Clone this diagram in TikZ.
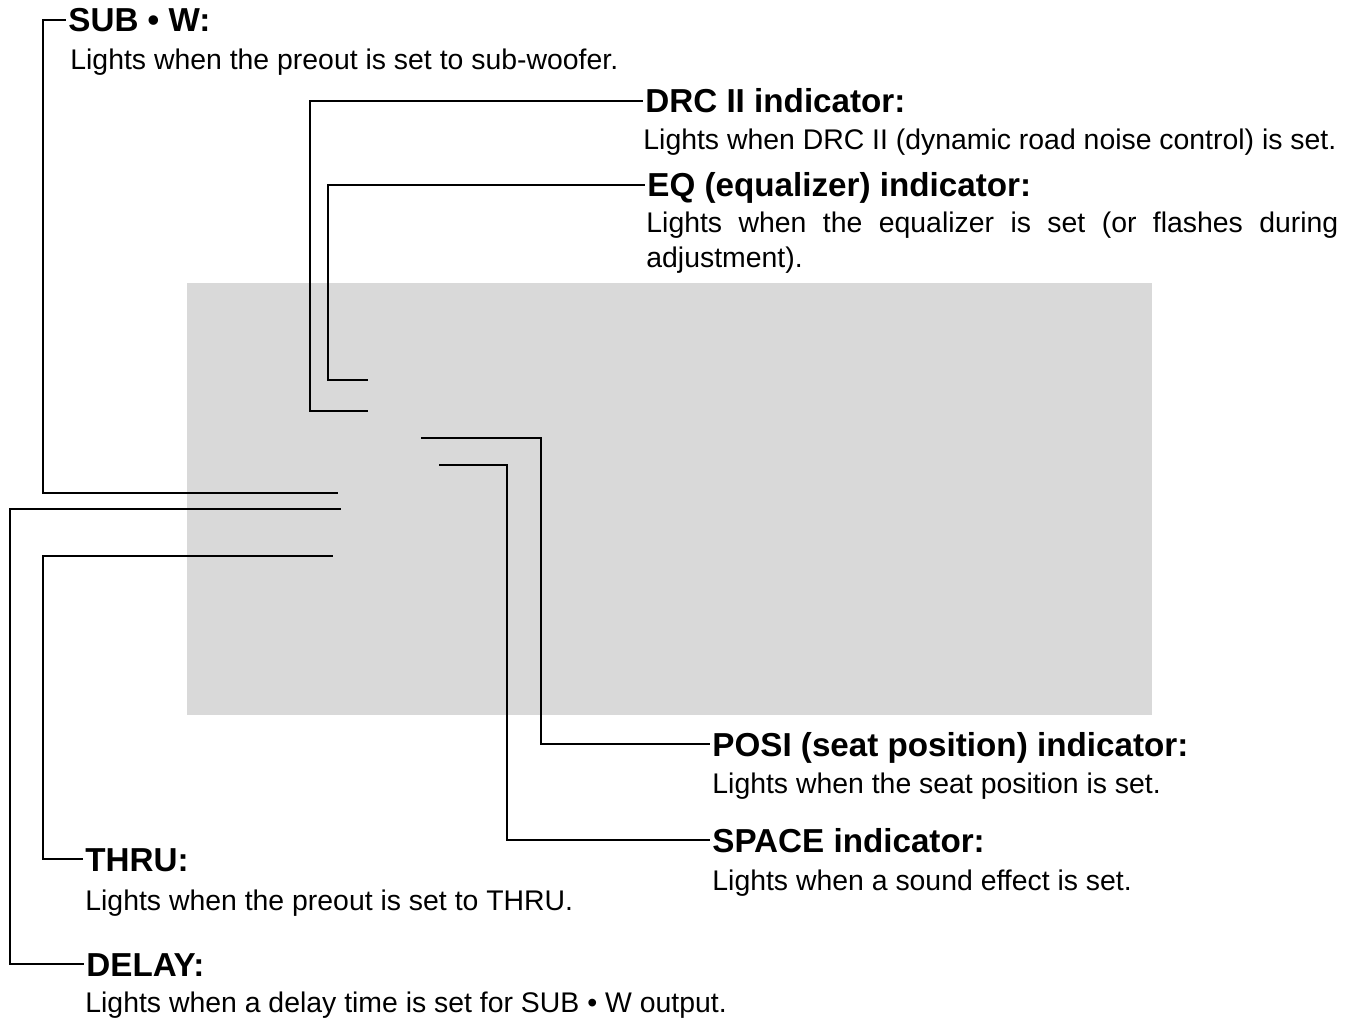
\documentclass[tikz,border=0pt]{standalone}
\usepackage{fontspec}
\setmainfont{Liberation Sans}
\begin{document}
\begin{tikzpicture}[x=0.5pt,y=-0.5pt,
  lbl/.style={font=\fontsize{16.6}{20}\selectfont\bfseries, inner sep=0pt, anchor=base west, text height=11.9pt, text depth=0pt},
  body/.style={font=\fontsize{14.2}{17.5}\selectfont, inner sep=0pt, anchor=base west},
  wire/.style={line width=0.85pt, line cap=rect}]
\useasboundingbox (0,0) rectangle (1350,1032);
% display panel
\fill[gray!30] (187,283) rectangle (1152,715);
% labels
\node[lbl] (sub) at (68,32) {SUB • W:};
\node[body] (subb) at (70,70) {Lights when the preout is set to sub-woofer.};
\node[lbl] (drc) at (645,113) {DRC II indicator:};
\node[body] (drcb) at (643,150) {Lights when DRC II (dynamic road noise control) is set.};
\node[lbl] (eq) at (647,197) {EQ (equalizer) indicator:};
\node[body] (eqb1) at (646,233) {\makebox[346pt][s]{Lights when the equalizer is set (or flashes during}};
\node[body] (eqb2) at (646,268) {adjustment).};
\node[lbl] (posi) at (712,756) {POSI (seat position) indicator:};
\node[body] (posib) at (712,793) {Lights when the seat position is set.};
\node[lbl] (space) at (712,852) {SPACE indicator:};
\node[body] (spaceb) at (712,890) {Lights when a sound effect is set.};
\node[lbl] (thru) at (85,871) {THRU:};
\node[body] (thrub) at (85,910) {Lights when the preout is set to THRU.};
\node[lbl] (delay) at (86,976) {DELAY:};
\node[body] (delayb) at (85,1012) {Lights when a delay time is set for SUB • W output.};
% connector ends inside the panel
\coordinate (csub) at (337,493);
\coordinate (cdelay) at (340,509);
\coordinate (cthru) at (332,556);
\coordinate (cdrc) at (367,411);
\coordinate (ceq) at (367,380);
\coordinate (cposi) at (422,438);
\coordinate (cspace) at (440,465);
% vertical runs
\coordinate (xsub) at (43,0);
\coordinate (xdelay) at (10,0);
\coordinate (xthru) at (43,0);
\coordinate (xdrc) at (310,0);
\coordinate (xeq) at (328,0);
\coordinate (xposi) at (541,0);
\coordinate (xspace) at (507,0);
% connectors
\draw[wire] ([xshift=-1.5pt]sub.west) -| (xsub |- csub) -- (csub);
\draw[wire] ([xshift=-1.5pt]delay.west) -| (xdelay |- cdelay) -- (cdelay);
\draw[wire] ([xshift=-1.5pt]thru.west) -| (xthru |- cthru) -- (cthru);
\draw[wire] ([xshift=-1.5pt]drc.west) -| (xdrc |- cdrc) -- (cdrc);
\draw[wire] ([xshift=-1.5pt]eq.west) -| (xeq |- ceq) -- (ceq);
\draw[wire] ([xshift=-1.5pt]posi.west) -| (xposi |- cposi) -- (cposi);
\draw[wire] ([xshift=-1.5pt]space.west) -| (xspace |- cspace) -- (cspace);
\end{tikzpicture}
\end{document}
